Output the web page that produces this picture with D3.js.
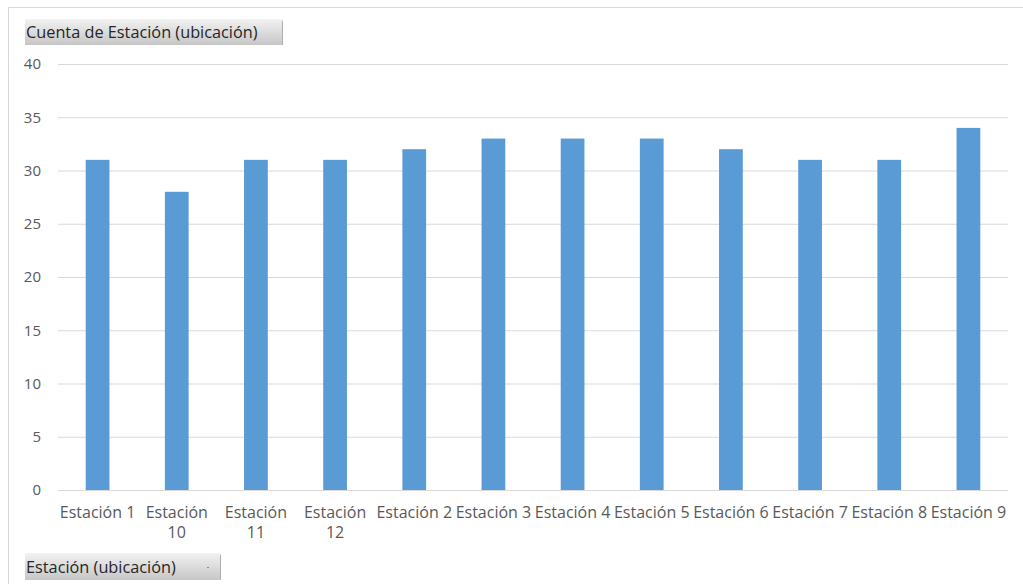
<!DOCTYPE html>
<html>
<head>
<meta charset="utf-8">
<script src="https://cdn.jsdelivr.net/npm/d3@7"></script>
<style>
  html, body { margin: 0; padding: 0; background: #fff; }
  svg { display: block; }
  text { font-family: "Open Sans", "Noto Sans", sans-serif; }
</style>
</head>
<body>
<svg id="chart" width="1023" height="584"></svg>
<script>
// Station counts
const categories = ["Estación 1", "Estación 10", "Estación 11", "Estación 12", "Estación 2", "Estación 3",
  "Estación 4", "Estación 5", "Estación 6", "Estación 7", "Estación 8", "Estación 9"];
const counts = [31, 28, 31, 31, 32, 33, 33, 33, 32, 31, 31, 34];
const yTicks = [0, 5, 10, 15, 20, 25, 30, 35, 40];
const valueFieldLabel = "Cuenta de Estación (ubicación)";
const axisFieldLabel = "Estación (ubicación)";

const svg = d3.select("#chart");
const W = 1023, H = 584;
const plot = { left: 58, right: 1008, top: 64, bottom: 490 };

// Chart frame
svg.append("path")
  .attr("d", `M8.5,${H} V7.5 H${W}`)
  .attr("fill", "none").attr("stroke", "#d9d9d9").attr("stroke-width", 1);

const x = d3.scaleBand().domain(categories).range([plot.left, plot.right]).paddingInner(0.7).paddingOuter(0.35);
const y = d3.scaleLinear().domain([0, 40]).range([plot.bottom, plot.top]);

// Gridlines and y tick labels
const yAxis = d3.axisLeft(y).tickValues(yTicks).tickSize(-(plot.right - plot.left)).tickPadding(17);
const gy = svg.append("g").attr("transform", `translate(${plot.left},0)`).call(yAxis);
gy.select(".domain").remove();
gy.selectAll(".tick line").attr("stroke", "#d9d9d9").attr("stroke-width", 1);
gy.selectAll(".tick text").attr("fill", "#595959").style("font-size", "15px")
  .style("font-family", "\"Open Sans\", sans-serif");

// Bars
svg.append("g").selectAll("rect").data(categories).join("rect")
  .attr("x", d => x(d))
  .attr("width", x.bandwidth())
  .attr("y", (d, i) => y(counts[i]))
  .attr("height", (d, i) => y(0) - y(counts[i]))
  .attr("fill", "#5b9bd5");

// Baseline
svg.append("line").attr("x1", plot.left).attr("x2", plot.right)
  .attr("y1", y(0) + 0.5).attr("y2", y(0) + 0.5).attr("stroke", "#d9d9d9");

// Category labels, wrapped when wider than one band
const step = x.step();
const labels = svg.append("g").selectAll("text").data(categories).join("text")
  .attr("x", d => x(d) + x.bandwidth() / 2)
  .attr("y", 518)
  .attr("text-anchor", "middle")
  .attr("fill", "#595959")
  .style("font-size", "16px")
  .text(d => d);
labels.each(function(d) {
  const t = d3.select(this);
  if (this.getComputedTextLength() > step + 2) {
    const parts = d.split(" ");
    const cx = t.attr("x");
    t.text(null);
    t.append("tspan").attr("x", cx).attr("dy", 0).text(parts[0]);
    t.append("tspan").attr("x", cx).attr("dy", 20).text(parts.slice(1).join(" "));
  }
});

// Field buttons
const grad = svg.append("defs").append("linearGradient").attr("id", "btn").attr("x1", 0).attr("y1", 0).attr("x2", 0).attr("y2", 1);
grad.append("stop").attr("offset", "0%").attr("stop-color", "#f2f2f2");
grad.append("stop").attr("offset", "100%").attr("stop-color", "#c6c6c6");

function fieldButton(label, bx, by, bw, bh, marker) {
  const g = svg.append("g");
  g.append("rect").attr("x", bx).attr("y", by).attr("width", bw).attr("height", bh).attr("fill", "url(#btn)");
  g.append("line").attr("x1", bx + bw - 0.5).attr("x2", bx + bw - 0.5).attr("y1", by + 2).attr("y2", by + bh)
    .attr("stroke", "#b0b0b0");
  g.append("text").attr("x", bx + 1).attr("y", by + bh / 2 + 6).attr("fill", "#262626")
    .style("font-size", "16.3px").text(label);
  if (marker) {
    g.append("line").attr("x1", bx + bw - 14).attr("x2", bx + bw - 12).attr("y1", by + bh / 2 + 1).attr("y2", by + bh / 2 + 1)
      .attr("stroke", "#888");
  }
}
fieldButton(valueFieldLabel, 25, 19, 258, 26, false);
fieldButton(axisFieldLabel, 25, 553, 196, 27, true);
</script>
</body>
</html>
